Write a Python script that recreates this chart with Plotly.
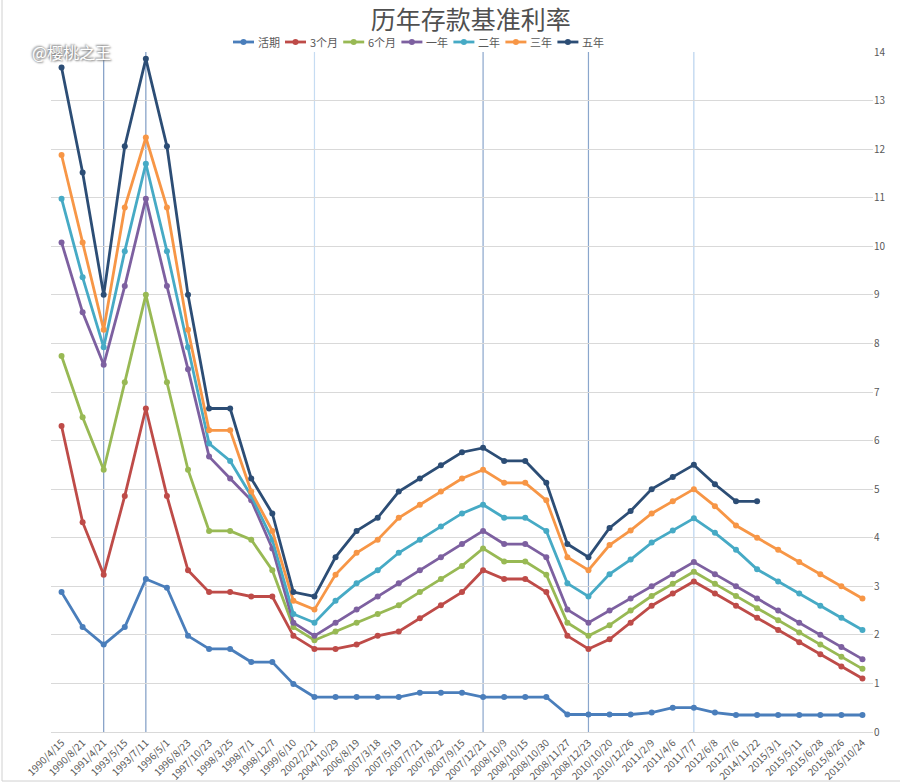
import plotly.graph_objects as go

dates = ["1990/4/15", "1990/8/21", "1991/4/21", "1993/5/15", "1993/7/11", "1996/5/1",
         "1996/8/23", "1997/10/23", "1998/3/25", "1998/7/1", "1998/12/7", "1999/6/10",
         "2002/2/21", "2004/10/29", "2006/8/19", "2007/3/18", "2007/5/19", "2007/7/21",
         "2007/8/22", "2007/9/15", "2007/12/21", "2008/10/9", "2008/10/15", "2008/10/30",
         "2008/11/27", "2008/12/23", "2010/10/20", "2010/12/26", "2011/2/9", "2011/4/6",
         "2011/7/7", "2012/6/8", "2012/7/6", "2014/11/22", "2015/3/1", "2015/5/11",
         "2015/6/28", "2015/8/26", "2015/10/24"]

huoqi = [2.88, 2.16, 1.80, 2.16, 3.15, 2.97, 1.98, 1.71, 1.71, 1.44, 1.44, 0.99,
         0.72, 0.72, 0.72, 0.72, 0.72, 0.81, 0.81, 0.81, 0.72, 0.72, 0.72, 0.72,
         0.36, 0.36, 0.36, 0.36, 0.40, 0.50, 0.50, 0.40, 0.35, 0.35, 0.35, 0.35,
         0.35, 0.35, 0.35]
m3 = [6.30, 4.32, 3.24, 4.86, 6.66, 4.86, 3.33, 2.88, 2.88, 2.79, 2.79, 1.98,
      1.71, 1.71, 1.80, 1.98, 2.07, 2.34, 2.61, 2.88, 3.33, 3.15, 3.15, 2.88,
      1.98, 1.71, 1.91, 2.25, 2.60, 2.85, 3.10, 2.85, 2.60, 2.35, 2.10, 1.85,
      1.60, 1.35, 1.10]
m6 = [7.74, 6.48, 5.40, 7.20, 9.00, 7.20, 5.40, 4.14, 4.14, 3.96, 3.33, 2.16,
      1.89, 2.07, 2.25, 2.43, 2.61, 2.88, 3.15, 3.42, 3.78, 3.51, 3.51, 3.24,
      2.25, 1.98, 2.20, 2.50, 2.80, 3.05, 3.30, 3.05, 2.80, 2.55, 2.30, 2.05,
      1.80, 1.55, 1.30]
y1 = [10.08, 8.64, 7.56, 9.18, 10.98, 9.18, 7.47, 5.67, 5.22, 4.77, 3.78, 2.25,
      1.98, 2.25, 2.52, 2.79, 3.06, 3.33, 3.60, 3.87, 4.14, 3.87, 3.87, 3.60,
      2.52, 2.25, 2.50, 2.75, 3.00, 3.25, 3.50, 3.25, 3.00, 2.75, 2.50, 2.25,
      2.00, 1.75, 1.50]
y2 = [10.98, 9.36, 7.92, 9.90, 11.70, 9.90, 7.92, 5.94, 5.58, 4.86, 3.96, 2.43,
      2.25, 2.70, 3.06, 3.33, 3.69, 3.96, 4.23, 4.50, 4.68, 4.41, 4.41, 4.14,
      3.06, 2.79, 3.25, 3.55, 3.90, 4.15, 4.40, 4.10, 3.75, 3.35, 3.10, 2.85,
      2.60, 2.35, 2.10]
y3 = [11.88, 10.08, 8.28, 10.80, 12.24, 10.80, 8.28, 6.21, 6.21, 4.95, 4.14, 2.70,
      2.52, 3.24, 3.69, 3.96, 4.41, 4.68, 4.95, 5.22, 5.40, 5.13, 5.13, 4.77,
      3.60, 3.33, 3.85, 4.15, 4.50, 4.75, 5.00, 4.65, 4.25, 4.00, 3.75, 3.50,
      3.25, 3.00, 2.75]
y5 = [13.68, 11.52, 9.00, 12.06, 13.86, 12.06, 9.00, 6.66, 6.66, 5.22, 4.50, 2.88,
      2.79, 3.60, 4.14, 4.41, 4.95, 5.22, 5.49, 5.76, 5.85, 5.58, 5.58, 5.13,
      3.87, 3.60, 4.20, 4.55, 5.00, 5.25, 5.50, 5.10, 4.75, 4.75, None, None,
      None, None, None]

series_names = ["活期", "3个月", "6个月", "一年", "二年", "三年", "五年"]
series_values = [huoqi, m3, m6, y1, y2, y3, y5]
series_colors = ["#4a7ebb", "#be4b48", "#98b954", "#7d60a0", "#46aac5", "#f79646", "#2c4d75"]

marked_dates = ["1991/4/21", "1993/7/11", "2002/2/21", "2007/12/21", "2008/12/23", "2011/7/7"]
marked_colors = ["#7f9cc4", "#7f9cc4", "#c6dcf2", "#8aa6cc", "#8aa6cc", "#b8d2ee"]

# plot-area geometry (pixels)
W, H = 900, 784
ML, MR, MT, MB = 51, 27, 52, 52
PW, PH = W - ML - MR, H - MT - MB


def px2paper_x(px):
    return (px - ML) / PW


def px2paper_y(py):
    return 1 + (MT - py) / PH


fig = go.Figure()
for name, vals, col in zip(series_names, series_values, series_colors):
    fig.add_trace(go.Scatter(
        x=dates, y=vals, name=name, mode="lines+markers",
        line=dict(color=col, width=2.8),
        marker=dict(color=col, size=6),
        connectgaps=False, showlegend=False,
    ))

for d, c in zip(marked_dates, marked_colors):
    fig.add_shape(type="line", xref="x", yref="paper", x0=d, x1=d, y0=0, y1=1,
                  line=dict(color=c, width=1.2), layer="below")

# custom compact legend (same look as the reference)
def text_w(s):
    return sum(6.2 if ch.isascii() else 11 for ch in s)

lx = 233
ly = 42
for name, col in zip(series_names, series_colors):
    fig.add_shape(type="line", xref="paper", yref="paper",
                  x0=px2paper_x(lx), x1=px2paper_x(lx + 21),
                  y0=px2paper_y(ly), y1=px2paper_y(ly),
                  line=dict(color=col, width=2.8))
    fig.add_shape(type="circle", xref="paper", yref="paper",
                  x0=px2paper_x(lx + 10.5 - 3), x1=px2paper_x(lx + 10.5 + 3),
                  y0=px2paper_y(ly + 3), y1=px2paper_y(ly - 3),
                  fillcolor=col, line=dict(color=col, width=0))
    fig.add_annotation(text=name, xref="paper", yref="paper",
                       x=px2paper_x(lx + 23), y=px2paper_y(ly),
                       xanchor="left", yanchor="middle", showarrow=False,
                       font=dict(size=11, color="#595959"))
    lx += 23 + text_w(name) + 7

fig.update_layout(
    width=W, height=H,
    margin=dict(l=ML, r=MR, t=MT, b=MB, autoexpand=False),
    paper_bgcolor="white", plot_bgcolor="white",
    font=dict(family="Noto Sans CJK SC, sans-serif", color="#595959"),
    title=dict(text="历年存款基准利率", xref="container", yref="container",
               x=0.523, y=1 - 20 / H, xanchor="center", yanchor="middle",
               font=dict(size=25, color="#505050", family="Noto Sans CJK SC")),
    xaxis=dict(type="category", categoryorder="array", categoryarray=dates,
               tickangle=-45, tickfont=dict(size=10, color="#595959"),
               showgrid=False, showline=True, linecolor="#d9d9d9", linewidth=1,
               ticks="", range=[-0.5, len(dates) - 0.5], automargin=False),
    yaxis=dict(side="right", range=[0, 14], dtick=1, showgrid=True,
               gridcolor="#d9d9d9", gridwidth=1, zeroline=False,
               tickfont=dict(size=10, color="#595959"), ticks="", automargin=False),
    showlegend=False,
)

fig.add_annotation(text="@樱桃之王", xref="paper", yref="paper",
                   x=px2paper_x(30), y=px2paper_y(52), xanchor="left", yanchor="middle",
                   showarrow=False,
                   font=dict(size=16, color="white", family="Noto Sans CJK SC",
                             shadow="1px 1px 2px #777, -1px -1px 2px #777"))

# thin frame at left and bottom edges, as in the reference image
fig.add_shape(type="line", xref="paper", yref="paper",
              x0=px2paper_x(2), x1=px2paper_x(2), y0=px2paper_y(0), y1=px2paper_y(781),
              line=dict(color="#d0d0d0", width=1))
fig.add_shape(type="line", xref="paper", yref="paper",
              x0=px2paper_x(2), x1=px2paper_x(900), y0=px2paper_y(781), y1=px2paper_y(781),
              line=dict(color="#d0d0d0", width=1))

fig.write_html("out.html", config={"displayModeBar": False},
               post_script="document.body.style.margin='0';document.body.style.overflow='hidden';")
